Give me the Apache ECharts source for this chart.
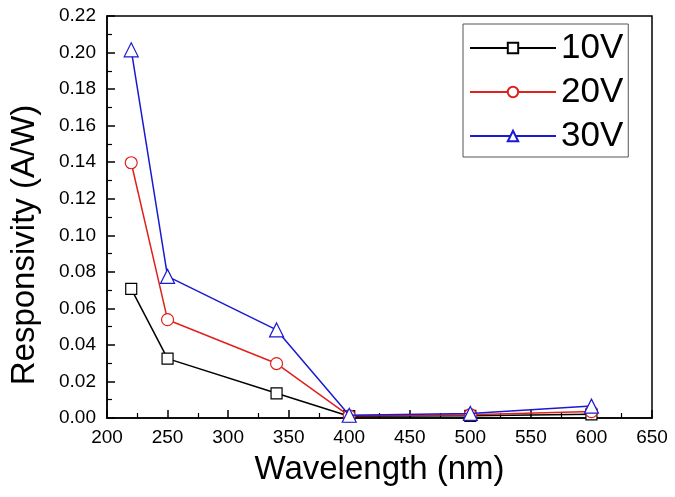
<!DOCTYPE html>
<html>
<head>
<meta charset="utf-8">
<script src="https://cdn.jsdelivr.net/npm/echarts@6/dist/echarts.min.js"></script>
<style>html,body{margin:0;padding:0;background:#fff;}#c{width:675px;height:497px;}</style>
</head>
<body>
<div id="c"></div>
<script>
const wavelengths = [220, 250, 340, 400, 500, 600];
const v10 = [0.0707, 0.0325, 0.0135, 0.0010, 0.0012, 0.0020];
const v20 = [0.1397, 0.0538, 0.0298, 0.0012, 0.0018, 0.0035];
const v30 = [0.2015, 0.0775, 0.0482, 0.0015, 0.0025, 0.0065];
const seriesNames = ['10V', '20V', '30V'];
const seriesColors = ['#000000', '#e0201c', '#1a1ad0'];
const seriesSymbols = ['rect', 'circle', 'triangle'];
const seriesSizes = [11, 12, 14];
const allValues = [v10, v20, v30];

const font = 'Liberation Sans, Arial, sans-serif';
const chart = echarts.init(document.getElementById('c'), null, {renderer: 'canvas'});

const series = allValues.map((vals, i) => ({
  name: seriesNames[i],
  type: 'line',
  data: wavelengths.map((w, j) => [w, vals[j]]),
  symbol: seriesSymbols[i],
  symbolSize: seriesSizes[i],
  showAllSymbol: true,
  lineStyle: {color: seriesColors[i], width: 1.5},
  itemStyle: {color: '#fff', borderColor: seriesColors[i], borderWidth: 1.2},
  emphasis: {disabled: true},
  z: 3 + i
}));

chart.setOption({
  animation: false,
  backgroundColor: '#fff',
  grid: {left: 103, right: 23, top: 16, bottom: 79, show: true, borderColor: '#000', borderWidth: 1.5},
  legend: {
    orient: 'vertical',
    left: 463, top: 24,
    padding: [6, 5, 3, 6],
    borderColor: '#555', borderWidth: 1,
    itemWidth: 86, itemHeight: 13,
    itemGap: 8,
    textStyle: {fontSize: 35, color: '#000', fontFamily: font, lineHeight: 36},
    data: seriesNames
  },
  xAxis: {
    type: 'value', min: 200, max: 650, interval: 50,
    name: 'Wavelength (nm)', nameLocation: 'middle', nameGap: 35,
    nameTextStyle: {fontSize: 33, color: '#000', fontFamily: font},
    axisLine: {show: true, lineStyle: {color: '#000', width: 1.5}},
    axisTick: {show: true, inside: true, length: 8, lineStyle: {color: '#000', width: 1.5}},
    minorTick: {show: true, splitNumber: 2, length: 5, lineStyle: {color: '#000', width: 1.2}},
    axisLabel: {fontSize: 19, color: '#000', fontFamily: font, margin: 10},
    splitLine: {show: false}
  },
  yAxis: {
    type: 'value', min: 0, max: 0.22, interval: 0.02,
    name: 'Responsivity (A/W)', nameLocation: 'middle', nameGap: 66,
    nameTextStyle: {fontSize: 33, color: '#000', fontFamily: font, padding: [0, 56, 0, 0]},
    axisLine: {show: true, lineStyle: {color: '#000', width: 1.5}},
    axisTick: {show: true, inside: true, length: 8, lineStyle: {color: '#000', width: 1.5}},
    minorTick: {show: true, splitNumber: 2, length: 5, lineStyle: {color: '#000', width: 1.2}},
    axisLabel: {fontSize: 19, color: '#000', fontFamily: font, margin: 11, formatter: v => v.toFixed(2)},
    splitLine: {show: false}
  },
  series: series
});
</script>
</body>
</html>
